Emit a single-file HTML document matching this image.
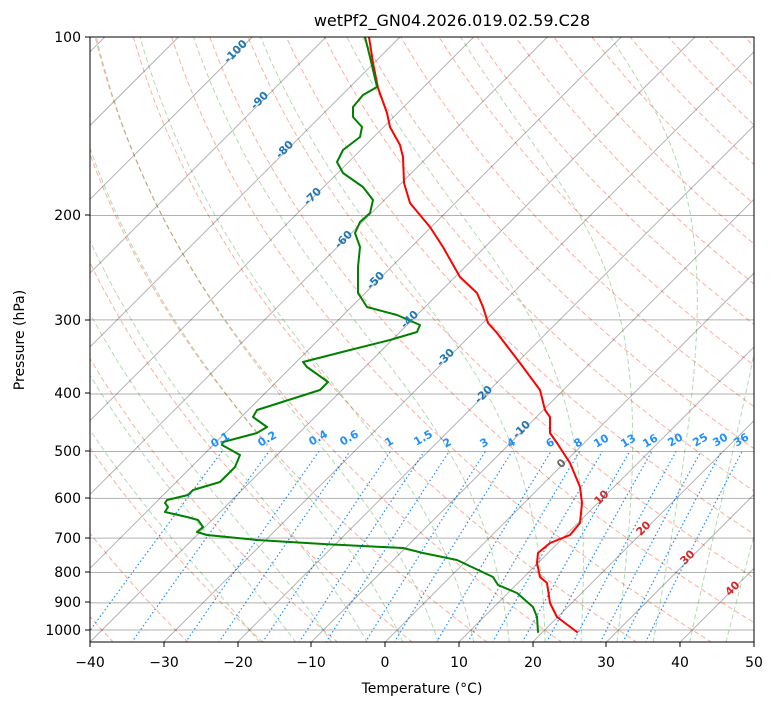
<!DOCTYPE html>
<html><head><meta charset="utf-8"><style>
body{margin:0;background:#fff}
svg{display:block;font-family:"DejaVu Sans","Liberation Sans",sans-serif}
</style></head><body>
<svg id="s" width="775" height="708" viewBox="0 0 775 708" xmlns="http://www.w3.org/2000/svg">
<defs><clipPath id="c"><rect x="90" y="37" width="664" height="605"/></clipPath></defs>
<rect width="775" height="708" fill="#fff"/>
<g id="bg" clip-path="url(#c)"></g>
<g clip-path="url(#c)" fill="none" stroke-width="2" stroke-linejoin="round" stroke-linecap="round">
<polyline stroke="#ff0000" points="369,37 373,63 378,88 387,113 390,127 400,145 403,157 404,183 410,203 430,227 443,247 460,277 477,293 483,307 488,323 497,333 510,350 520,363 540,390 545,410 550,417 550,433 557,443 570,463 580,487 582,503 580,523 570,535 550,543 538,553 537,563 540,577 547,583 550,603 557,617 577,632"/>
<polyline stroke="#008000" points="365,37 370,57 377,87 363,95 353,107 353,117 362,127 360,137 343,150 337,162 343,173 363,187 373,200 370,213 360,222 355,233 360,247 358,267 358,293 367,307 397,315 420,325 417,332 390,340 350,350 303,362 307,367 328,382 320,390 257,410 253,417 267,427 257,433 223,442 222,445 240,455 235,467 220,482 193,490 188,495 167,500 165,503 168,507 165,512 187,517 198,520 203,527 197,532 207,535 257,540 323,544 403,548 423,553 457,560 493,577 498,585 517,593 533,607 537,617 538,632"/>
</g>
<rect x="90" y="37" width="664" height="605" fill="none" stroke="#000" stroke-width="1"/>
<g stroke="#000" stroke-width="1">
<path d="M90,642v5M164,642v5M238,642v5M311,642v5M385,642v5M459,642v5M533,642v5M606,642v5M680,642v5M754,642v5"/>
<path d="M85,37h5M85,215h5M85,320h5M85,393h5M85,451h5M85,498h5M85,538h5M85,572h5M85,602h5M85,630h5"/>
</g>
<g font-size="14" fill="#000">
<text x="452" y="26" text-anchor="middle" font-size="16">wetPf2_GN04.2026.019.02.59.C28</text>
<text x="422" y="693" text-anchor="middle">Temperature (°C)</text>
<text transform="translate(24,340) rotate(-90)" text-anchor="middle">Pressure (hPa)</text>
<g text-anchor="middle">
<text x="90" y="667">−40</text><text x="164" y="667">−30</text><text x="238" y="667">−20</text><text x="311" y="667">−10</text><text x="385" y="667">0</text><text x="459" y="667">10</text><text x="533" y="667">20</text><text x="606" y="667">30</text><text x="680" y="667">40</text><text x="754" y="667">50</text>
</g>
<g text-anchor="end">
<text x="81" y="42">100</text><text x="81" y="220">200</text><text x="81" y="325">300</text><text x="81" y="398">400</text><text x="81" y="456">500</text><text x="81" y="503">600</text><text x="81" y="543">700</text><text x="81" y="577">800</text><text x="81" y="607">900</text><text x="81" y="635">1000</text>
</g>
</g>
<g font-size="11" font-weight="bold" fill="#1f77b4" text-anchor="middle">
<text transform="translate(238,54) rotate(-45)">-100</text>
<text transform="translate(262,103) rotate(-45)">-90</text>
<text transform="translate(287,152) rotate(-45)">-80</text>
<text transform="translate(315,199) rotate(-45)">-70</text>
<text transform="translate(346,242) rotate(-45)">-60</text>
<text transform="translate(378,283) rotate(-45)">-50</text>
<text transform="translate(412,322) rotate(-45)">-40</text>
<text transform="translate(448,360) rotate(-45)">-30</text>
<text transform="translate(486,397) rotate(-45)">-20</text>
<text transform="translate(524,432) rotate(-45)">-10</text>
<text fill="#666" transform="translate(564,466) rotate(-45)">0</text>
<text fill="#d62728" transform="translate(604,500) rotate(-45)">10</text>
<text fill="#d62728" transform="translate(646,531) rotate(-45)">20</text>
<text fill="#d62728" transform="translate(690,560) rotate(-45)">30</text>
<text fill="#d62728" transform="translate(735,591) rotate(-45)">40</text>
</g>
<g font-size="11" font-weight="bold" fill="#1e90ff" text-anchor="middle">
<text transform="translate(222,443) rotate(-30)">0.1</text>
<text transform="translate(269,442) rotate(-30)">0.2</text>
<text transform="translate(320,441) rotate(-30)">0.4</text>
<text transform="translate(351,441) rotate(-30)">0.6</text>
<text transform="translate(391,445) rotate(-30)">1</text>
<text transform="translate(425,441) rotate(-30)">1.5</text>
<text transform="translate(449,446) rotate(-30)">2</text>
<text transform="translate(486,446) rotate(-30)">3</text>
<text transform="translate(513,446) rotate(-30)">4</text>
<text transform="translate(552,446) rotate(-30)">6</text>
<text transform="translate(580,446) rotate(-30)">8</text>
<text transform="translate(603,444) rotate(-30)">10</text>
<text transform="translate(630,444) rotate(-30)">13</text>
<text transform="translate(652,444) rotate(-30)">16</text>
<text transform="translate(677,443) rotate(-30)">20</text>
<text transform="translate(702,443) rotate(-30)">25</text>
<text transform="translate(722,443) rotate(-30)">30</text>
<text transform="translate(743,443) rotate(-30)">36</text>
</g>
<script>
(function(){
var g=document.getElementById('bg'),NS='http://www.w3.org/2000/svg';
function Y(p){return 37+593*Math.log10(p/100);}
function X(T,p){return 90+(T+40)*7.378+(642-Y(p));}
function pl(pts,st,w,da){var e=document.createElementNS(NS,'polyline');e.setAttribute('points',pts.map(function(a){return a[0].toFixed(1)+','+a[1].toFixed(1)}).join(' '));e.setAttribute('fill','none');e.setAttribute('stroke',st);e.setAttribute('stroke-width',w);if(da)e.setAttribute('stroke-dasharray',da);g.appendChild(e);}
for(var th=-40;th<=220;th+=10){var pts=[];for(var p=1050;p>=100;p-=10){var T=(th+273.15)*Math.pow(p/1000,0.2857)-273.15;pts.push([X(T,p),Y(p)]);}pl(pts,'rgba(250,110,80,0.55)',1,'5,3');}
function es(T){return 6.112*Math.exp(17.67*T/(T+243.5));}
function lapse(T,p){var Tk=T+273.15,e=es(T),rs=0.622*e/(p-e),Lv=2.5e6,Rd=287,Cp=1005;return (Rd*Tk+Lv*rs)/(Cp+Lv*Lv*rs*0.622/(Rd*Tk*Tk))/p;}
for(var T0=-20;T0<=45;T0+=5){var pts=[],T=T0,p;for(p=1000;p>=100;p-=2){pts.push([X(T,p),Y(p)]);T-=lapse(T,p)*2;}
var dn=[];T=T0;for(p=1000;p<=1050;p+=2){dn.push([X(T,p),Y(p)]);T+=lapse(T,p)*2;}pts=dn.reverse().concat(pts);pl(pts,'rgba(0,128,0,0.3)',1,'5,3');}
[0.1,0.2,0.4,0.6,1,1.5,2,3,4,6,8,10,13,16,20,25,30,36].forEach(function(w){var pts=[];for(var p=1050;p>=500;p-=10){var e=w*p/(622+w),l=Math.log(e/6.112),Td=243.5*l/(17.67-l);pts.push([X(Td,p),Y(p)]);}pl(pts,'#1e90ff',1.2,'1.5,2.5');});
for(var T=-160;T<=50;T+=10){pl([[X(T,1050),Y(1050)],[X(T,100),Y(100)]],'rgba(0,0,0,0.3)',1);}
[100,200,300,400,500,600,700,800,900,1000].forEach(function(p){pl([[90,Y(p)],[754,Y(p)]],'rgba(0,0,0,0.3)',1);});
})();
</script>
</svg>
</body></html>
